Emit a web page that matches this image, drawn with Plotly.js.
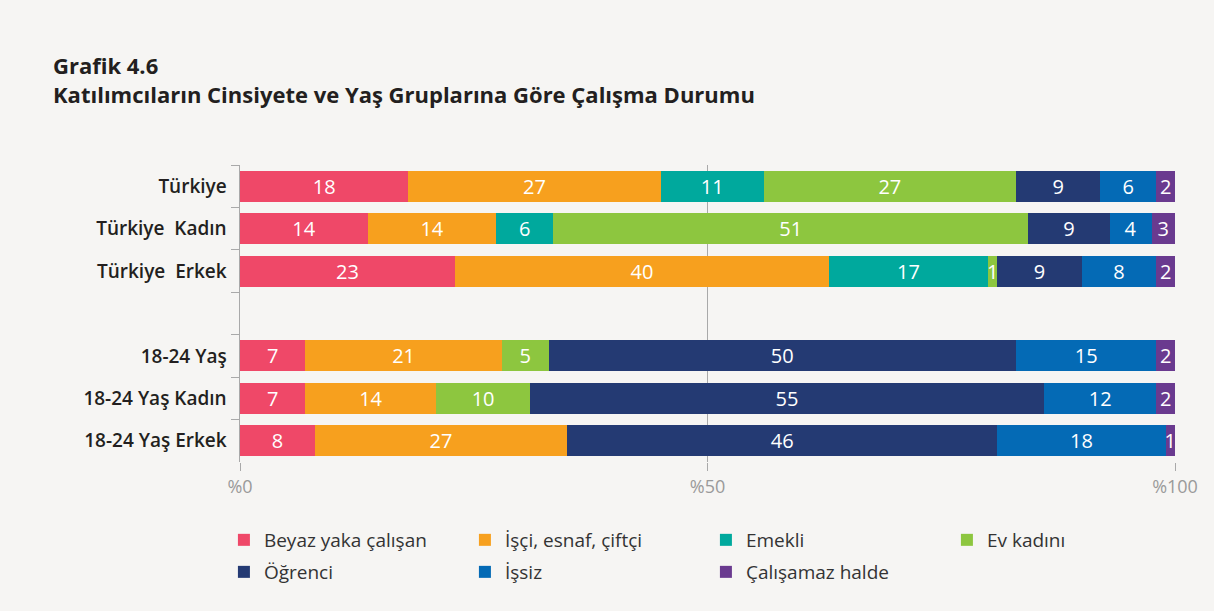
<!DOCTYPE html>
<html>
<head>
<meta charset="utf-8">
<script src="https://cdn.plot.ly/plotly-3.0.1.min.js"></script>
<style>html,body{margin:0;padding:0;background:#f6f5f3;}</style>
</head>
<body>
<div id="chart" style="width:1214px;height:611px;"></div>
<script>
// Categories (top to bottom); the blank one is the gap row
const categories = ["Türkiye", "Türkiye\u00a0\u00a0Kadın", "Türkiye\u00a0\u00a0Erkek", " ", "18-24 Yaş", "18-24 Yaş Kadın", "18-24 Yaş Erkek"];
const seriesNames = ["Beyaz yaka çalışan", "İşçi, esnaf, çiftçi", "Emekli", "Ev kadını", "Öğrenci", "İşsiz", "Çalışamaz halde"];
const colors = ["#ef4868", "#f7a01e", "#00a99d", "#8dc63f", "#243a73", "#046ab5", "#6a3a8f"];

// Bar lengths (%)
const beyazYaka   = [18, 13.7, 23, null, 7, 7, 8];
const isci        = [27, 13.7, 40, null, 21, 14, 27];
const emekli      = [11, 6.1, 17, null, 0, 0, 0];
const evKadini    = [27, 50.8, 1, null, 5, 10, 0];
const ogrenci     = [9, 8.7, 9, null, 50, 55, 46];
const issiz       = [6, 4.5, 8, null, 15, 12, 18];
const calisamaz   = [2, 2.5, 2, null, 2, 2, 1];

// Printed labels on the bars
const beyazYakaLbl = ["18", "14", "23", "", "7", "7", "8"];
const isciLbl      = ["27", "14", "40", "", "21", "14", "27"];
const emekliLbl    = ["11", "6", "17", "", "", "", ""];
const evKadiniLbl  = ["27", "51", "1", "", "5", "10", ""];
const ogrenciLbl   = ["9", "9", "9", "", "50", "55", "46"];
const issizLbl     = ["6", "4", "8", "", "15", "12", "18"];
const calisamazLbl = ["2", "3", "2", "", "2", "2", "1"];

const xTickVals = [0, 50, 100];
const xTickText = ["%0", "%50", "%100"];

const values = [beyazYaka, isci, emekli, evKadini, ogrenci, issiz, calisamaz];
const labels = [beyazYakaLbl, isciLbl, emekliLbl, evKadiniLbl, ogrenciLbl, issizLbl, calisamazLbl];

const traces = seriesNames.map((name, i) => ({
  type: "bar",
  orientation: "h",
  name: name,
  y: categories,
  x: values[i],
  text: labels[i],
  textposition: "inside",
  insidetextanchor: "middle",
  textangle: 0,
  textfont: {family: "Open Sans", size: 20, color: "#ffffff"},
  marker: {color: colors[i], line: {width: 0}},
  legend: i < 4 ? "legend" : "legend2",
  hoverinfo: "skip"
}));

const legendCommon = {
  orientation: "h",
  traceorder: "normal",
  x: -0.0172,
  xanchor: "left",
  yanchor: "middle",
  entrywidth: 196,
  entrywidthmode: "pixels",
  font: {family: "Open Sans", size: 19, color: "#333333"},
  bgcolor: "rgba(0,0,0,0)"
};

const layout = {
  width: 1214,
  height: 611,
  paper_bgcolor: "#f6f5f3",
  plot_bgcolor: "#f6f5f3",
  barmode: "stack",
  bargap: 0.27,
  margin: {l: 240, r: 39, t: 165, b: 149},
  uniformtext: {mode: "show", minsize: 20},
  title: {
    text: "Grafik 4.6<br>Katılımcıların Cinsiyete ve Yaş Gruplarına Göre Çalışma Durumu",
    font: {family: "Open Sans", size: 22, color: "#231f20", weight: 700},
    x: 53 / 1214,
    xanchor: "left",
    xref: "container",
    y: 1 - 74 / 611,
    yanchor: "top",
    yref: "container"
  },
  xaxis: {
    range: [0, 100],
    tickvals: xTickVals,
    ticktext: xTickText,
    showgrid: true,
    gridcolor: "#a9a9a9",
    gridwidth: 1,
    zeroline: false,
    ticks: "outside",
    ticklen: 8,
    tickcolor: "#a9a9a9",
    tickfont: {family: "Open Sans", size: 18, color: "#9a9a9a"},
    fixedrange: true
  },
  yaxis: {
    type: "category",
    autorange: "reversed",
    showline: true,
    linecolor: "#a9a9a9",
    linewidth: 1.5,
    ticks: "outside",
    tickson: "boundaries",
    ticklen: 8,
    tickcolor: "#a9a9a9",
    ticklabelstandoff: 8,
    tickfont: {family: "Open Sans", size: 19, color: "#231f20", weight: 600},
    showgrid: false,
    fixedrange: true
  },
  showlegend: true,
  legend: Object.assign({}, legendCommon, {y: -0.2626}),
  legend2: Object.assign({}, legendCommon, {y: -0.3704})
};

Plotly.newPlot("chart", traces, layout, {displayModeBar: false, staticPlot: true});
</script>
</body>
</html>
